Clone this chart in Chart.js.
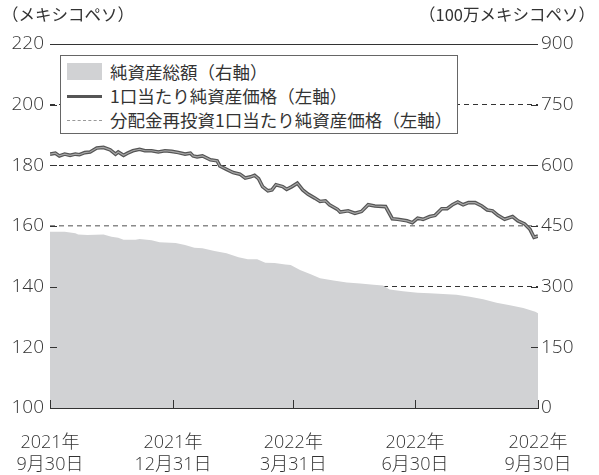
<!DOCTYPE html>
<html><head><meta charset="utf-8">
<script src="https://cdn.jsdelivr.net/npm/chart.js@4"></script>
<style>
html,body{margin:0;padding:0;background:#fff;}
#wrap{position:relative;width:599px;height:475px;overflow:hidden;}
canvas{position:absolute;left:0;top:0;}
.t{position:absolute;font-family:'Noto Sans CJK JP',sans-serif;font-size:16.5px;color:#333;line-height:20px;white-space:nowrap;}
#legend{position:absolute;left:60px;top:55px;width:398px;height:79px;border:1px solid #666;background:#fff;box-sizing:border-box;}
#legend .lt{position:absolute;left:49px;font-family:'Noto Sans CJK JP',sans-serif;font-size:17.5px;color:#333;line-height:22px;white-space:nowrap;}
</style></head>
<body>
<div id="wrap">
<canvas id="c" width="599" height="475"></canvas>
<div class="t" style="left:2px;top:4px;">（メキシコペソ）</div>
<div class="t" style="right:4px;top:4px;">（100万メキシコペソ）</div>
<div id="legend">
  <div style="position:absolute;left:6px;top:7px;width:35px;height:17px;background:#d1d2d4;"></div>
  <div class="lt" style="top:5px;">純資産総額（右軸）</div>
  <div style="position:absolute;left:6px;top:39px;width:35px;height:3px;background:#555;"></div>
  <div class="lt" style="top:29px;">1口当たり純資産価格（左軸）</div>
  <div style="position:absolute;left:6px;top:64px;width:35px;height:0;border-top:1px dashed #999;"></div>
  <div class="lt" style="top:53px;">分配金再投資1口当たり純資産価格（左軸）</div>
</div>
</div>
<script>
// ---- data (x = days since 2021-09-30) ----
const navDays = [0,4,7,11,15,19,22,26,30,35,40,45,49,51,55,58,62,67,71,76,81,86,91,96,101,105,107,110,114,120,125,127,132,137,142,146,150,153,156,159,163,166,169,174,177,181,185,189,193,198,202,206,209,215,217,223,228,233,238,243,251,256,260,267,271,275,279,284,288,293,297,301,305,309,313,318,323,327,331,335,340,346,350,355,359,362,365];
const navPerUnit = [183.7,184.0,183.1,183.7,183.3,183.7,183.5,184.2,184.4,185.7,185.9,185.1,183.7,184.4,183.3,184.0,184.8,185.3,184.8,184.8,184.4,184.8,184.6,184.2,183.7,184.0,183.1,182.8,183.1,181.8,181.5,179.8,178.7,177.6,177.1,175.8,176.2,176.7,175.6,173.0,171.6,171.9,173.6,173.0,172.1,173.0,174.1,171.9,170.5,169.2,168.1,168.3,167.0,165.5,164.6,165.0,164.2,164.8,167.0,166.6,166.4,162.4,162.2,161.7,161.1,162.6,162.2,163.1,163.5,165.7,165.7,167.0,167.9,167.0,167.7,167.7,166.6,165.3,165.0,163.5,162.2,163.1,161.7,160.7,158.9,156.3,156.7];
const reinvestNav = [183.7,184.0,183.1,183.7,183.3,183.7,183.5,184.2,184.4,185.7,185.9,185.1,183.7,184.4,183.3,184.0,184.8,185.3,184.8,184.8,184.4,184.8,184.6,184.2,183.7,184.0,183.1,182.8,183.1,181.8,181.5,179.8,178.7,177.6,177.1,175.8,176.2,176.7,175.6,173.0,171.6,171.9,173.6,173.0,172.1,173.0,174.1,171.9,170.5,169.2,168.1,168.3,167.0,165.5,164.6,165.0,164.2,164.8,167.0,166.6,166.4,162.4,162.2,161.7,161.1,162.6,162.2,163.1,163.5,165.7,165.7,167.0,167.9,167.0,167.7,167.7,166.6,165.3,165.0,163.5,162.2,163.1,161.7,160.7,158.9,156.3,156.7];
const aumDays = [0,11,19,21,28,40,46,51,55,64,67,76,82,94,101,108,114,123,132,141,148,155,161,168,176,180,187,195,202,212,222,232,242,249,254,264,275,284,294,304,314,324,334,344,354,363,365];
const totalNav = [436,436,432,429,428,429,423.5,421,416,416,418,415,410,408,403,396,395,388,382.5,373,368,368,359,358.5,355,353.6,341,331,321,315,310,308,305,303,293,288.5,285,283.6,282,280,275,269,260,254,247,238,234];
const xTickDays = [0,92,182,273,365];
const xTickLabels = [['2021年','9月30日'],['2021年','12月31日'],['2022年','3月31日'],['2022年','6月30日'],['2022年','9月30日']];
const leftTicks = [100,120,140,160,180,200,220];
const rightTicks = [0,150,300,450,600,750,900];

const pts = (xs, ys) => xs.map((x,i)=>({x:x, y:ys[i]}));
const NUMFONT = "'Open Sans','Noto Sans CJK JP',sans-serif";

const innerTicks = {
  id:'innerTicks',
  afterDatasetsDraw(chart){
    const {ctx, chartArea:a, scales} = chart;
    ctx.save(); ctx.strokeStyle='#333'; ctx.lineWidth=1; ctx.setLineDash([]);
    ctx.beginPath();
    scales.y.ticks.forEach(t=>{
      if (t.value===100) return;
      const y = Math.round(scales.y.getPixelForValue(t.value))+0.5;
      ctx.moveTo(a.left,y); ctx.lineTo(a.left+7,y);
      ctx.moveTo(a.right-7,y); ctx.lineTo(a.right,y);
    });
    scales.x.ticks.forEach(t=>{
      const x = Math.round(scales.x.getPixelForValue(t.value))+0.5;
      ctx.moveTo(x,a.bottom); ctx.lineTo(x,a.bottom-8);
    });
    ctx.stroke(); ctx.restore();
  }
};

new Chart(document.getElementById('c'), {
  type:'line',
  data:{datasets:[
    {label:'分配金再投資1口当たり純資産価格（左軸）', data:pts(navDays,reinvestNav), yAxisID:'y', borderColor:'#a8a8a8', borderWidth:1.2, pointRadius:0, tension:0, fill:false},
    {label:'1口当たり純資産価格（左軸）', data:pts(navDays,navPerUnit), yAxisID:'y', borderColor:'#555', borderWidth:3.6, pointRadius:0, tension:0, fill:false},
    {label:'純資産総額（右軸）', data:pts(aumDays,totalNav), yAxisID:'y2', backgroundColor:'#d1d2d4', borderWidth:0, borderColor:'rgba(0,0,0,0)', pointRadius:0, tension:0, fill:'origin'}
  ]},
  options:{
    responsive:false, animation:false,
    layout:{padding:{top:44,left:0,right:0,bottom:0}},
    plugins:{legend:{display:false}, tooltip:{enabled:false}},
    scales:{
      x:{type:'linear', min:0, max:365,
        afterBuildTicks:(s)=>{ s.ticks = xTickDays.map(v=>({value:v})); },
        afterFit:(s)=>{ s.height = 67; s.paddingLeft = 0; s.paddingRight = 0; },
        grid:{display:false, drawTicks:false},
        border:{display:true, color:'#333', width:1, z:1},
        ticks:{autoSkip:false, maxRotation:0, padding:24, color:'#333',
          font:{family:NUMFONT, size:18, weight:300, lineHeight:1.2},
          callback:(v,i)=>xTickLabels[i]}
      },
      y:{type:'linear', position:'left', min:100, max:220,
        afterBuildTicks:(s)=>{ s.ticks = leftTicks.map(v=>({value:v})); },
        afterFit:(s)=>{ s.width = 50; },
        grid:{drawTicks:false, drawOnChartArea:true,
          color:(c)=> (c.tick && c.tick.value===160) ? '#8a8a8a' : '#333',
          lineWidth:(c)=> (c.tick && c.tick.value===160) ? 1.5 : 1},
        border:{display:false, dash:(c)=> (c.tick && (c.tick.value===220 || c.tick.value===100)) ? [] : [5,4]},
        ticks:{padding:6, color:'#333', font:{family:NUMFONT, size:19, weight:300}}
      },
      y2:{type:'linear', position:'right', min:0, max:900,
        afterBuildTicks:(s)=>{ s.ticks = rightTicks.map(v=>({value:v})); },
        afterFit:(s)=>{ s.width = 61; },
        grid:{display:false, drawTicks:false},
        border:{display:false},
        ticks:{padding:3, color:'#333', font:{family:NUMFONT, size:19, weight:300}}
      }
    }
  },
  plugins:[innerTicks]
});
</script>
</body></html>
